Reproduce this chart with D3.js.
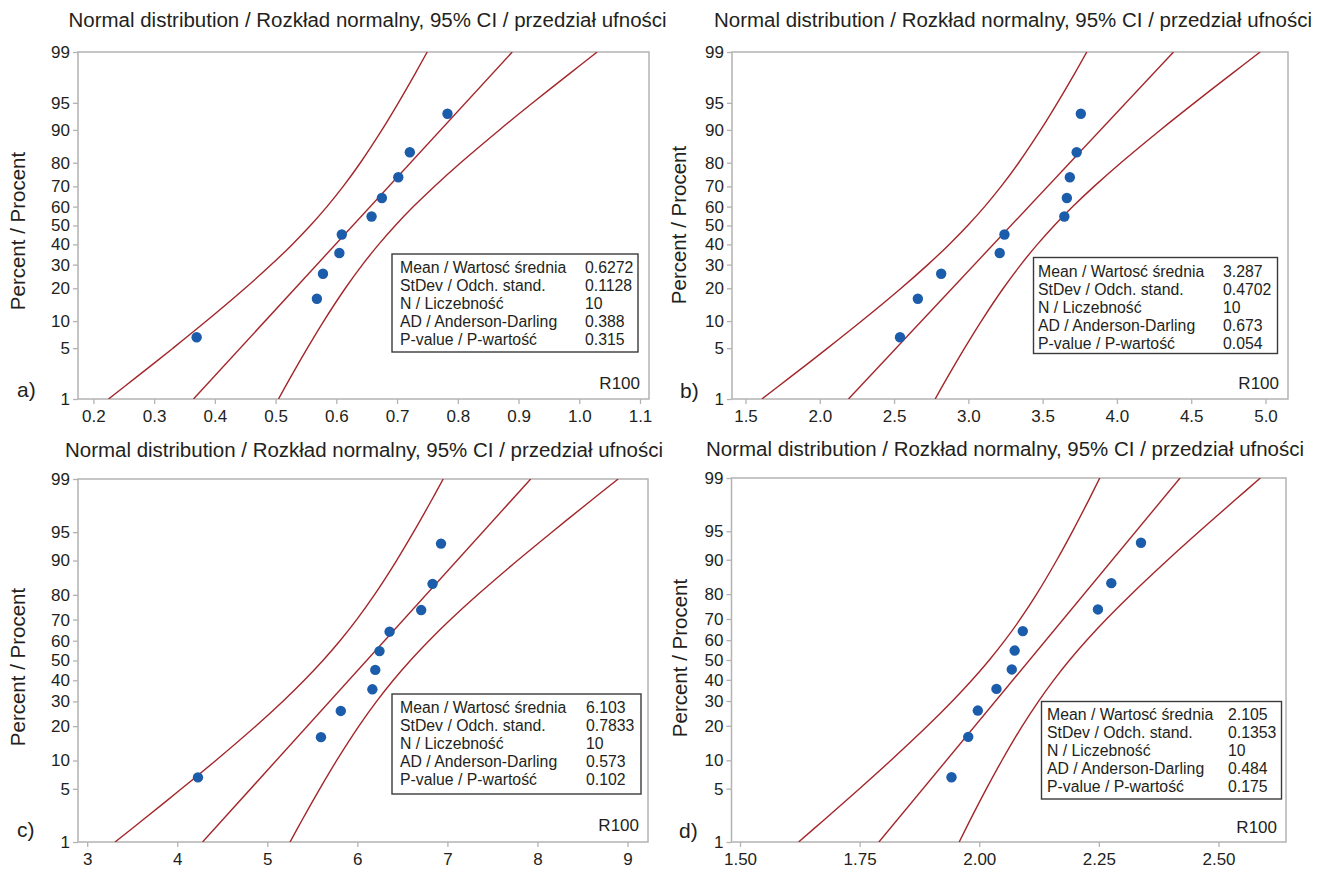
<!DOCTYPE html>
<html>
<head>
<meta charset="utf-8">
<script src="https://cdn.jsdelivr.net/npm/d3@7"></script>
<style>
  html, body { margin: 0; padding: 0; background: #fff; }
  svg { display: block; font-family: "Liberation Sans", Arial, sans-serif; }
</style>
</head>
<body>
<svg id="chart" width="1322" height="869"></svg>
<script>
// ---------------- DATA ----------------
const titleText = "Normal distribution / Rozkład normalny, 95% CI / przedział ufności";
const yAxisLabel = "Percent / Procent";
const sampleLabel = "R100";
const statLabels = ["Mean / Wartosć średnia", "StDev / Odch. stand.", "N / Liczebność", "AD / Anderson-Darling", "P-value / P-wartość"];
const yTickPct = [1, 5, 10, 20, 30, 40, 50, 60, 70, 80, 90, 95, 99];
const pointPct = [6.7, 16.3, 25.9, 35.6, 45.2, 54.8, 64.4, 74.1, 83.7, 93.3];
const bandPct = [1, 2, 5, 10, 20, 30, 40, 50, 60, 70, 80, 90, 95, 98, 99];
const fitPct = [1, 99];

// panel a
const aValues = [0.370, 0.568, 0.578, 0.605, 0.609, 0.658, 0.675, 0.702, 0.721, 0.783];
const aLower = [0.2249, 0.2677, 0.3310, 0.3860, 0.4497, 0.4930, 0.5275, 0.5573, 0.5846, 0.6113, 0.6396, 0.6751, 0.7021, 0.7310, 0.7496];
const aUpper = [0.5048, 0.5234, 0.5523, 0.5793, 0.6148, 0.6431, 0.6698, 0.6971, 0.7269, 0.7614, 0.8047, 0.8685, 0.9234, 0.9867, 1.0295];
const aFit = [0.3648, 0.8896];
const aStats = ["0.6272", "0.1128", "10", "0.388", "0.315"];
const aXTicks = [0.2, 0.3, 0.4, 0.5, 0.6, 0.7, 0.8, 0.9, 1.0, 1.1];

// panel b
const bValues = [2.540, 2.660, 2.817, 3.211, 3.243, 3.646, 3.663, 3.683, 3.729, 3.757];
const bLower = [1.6100, 1.7883, 2.0524, 2.2814, 2.5472, 2.7275, 2.8713, 2.9956, 3.1095, 3.2207, 3.3387, 3.4866, 3.5994, 3.7199, 3.7974];
const bUpper = [2.7766, 2.8541, 2.9746, 3.0874, 3.2353, 3.3534, 3.4645, 3.5784, 3.7027, 3.8465, 4.0268, 4.2926, 4.5216, 4.7857, 4.9640];
const bFit = [2.1933, 4.3807];
const bStats = ["3.287", "0.4702", "10", "0.673", "0.054"];
const bXTicks = [1.5, 2.0, 2.5, 3.0, 3.5, 4.0, 4.5, 5.0];

// panel c
const cValues = [4.230, 5.596, 5.816, 6.167, 6.199, 6.246, 6.358, 6.709, 6.835, 6.929];
const cLower = [3.3094, 3.6063, 4.0463, 4.4278, 4.8706, 5.1710, 5.4105, 5.6175, 5.8073, 5.9925, 6.1892, 6.4355, 6.6234, 6.8241, 6.9533];
const cUpper = [5.2527, 5.3819, 5.5826, 5.7705, 6.0168, 6.2135, 6.3987, 6.5885, 6.7955, 7.0351, 7.3354, 7.7782, 8.1597, 8.5997, 8.8966];
const cFit = [4.2810, 7.9250];
const cStats = ["6.103", "0.7833", "10", "0.573", "0.102"];
const cXTicks = [3, 4, 5, 6, 7, 8, 9];

// panel d
const dValues = [1.942, 1.977, 1.997, 2.036, 2.068, 2.074, 2.091, 2.248, 2.276, 2.338];
const dLower = [1.6225, 1.6737, 1.7497, 1.8156, 1.8921, 1.9440, 1.9854, 2.0211, 2.0539, 2.0859, 2.1199, 2.1624, 2.1949, 2.2296, 2.2519];
const dUpper = [1.9581, 1.9804, 2.0151, 2.0476, 2.0901, 2.1241, 2.1561, 2.1889, 2.2246, 2.2660, 2.3179, 2.3944, 2.4603, 2.5363, 2.5875];
const dFit = [1.7903, 2.4197];
const dStats = ["2.105", "0.1353", "10", "0.484", "0.175"];
const dXTicks = [1.50, 1.75, 2.00, 2.25, 2.50];

// ---------------- LAYOUT ----------------
const panels = [
  { tag: "a)", values: aValues, lower: aLower, upper: aUpper, fit: aFit, stats: aStats, xTicks: aXTicks, fmt: ".1f",
    frame: {x0: 78, x1: 649, y0: 52, y1: 399}, xd: [0.2, 1.1], xr: [93.4, 640],
    title: {x: 68.6, y: 27}, ylab: {x: 18, y: 231}, tagPos: {x: 17, y: 397}, r100: {y: 389},
    box: {x: 392, y: 254, w: 246, h: 98, lx: 400, vx: 585, by: 273} },
  { tag: "b)", values: bValues, lower: bLower, upper: bUpper, fit: bFit, stats: bStats, xTicks: bXTicks, fmt: ".1f",
    frame: {x0: 732, x1: 1288, y0: 52, y1: 399}, xd: [1.5, 5.0], xr: [745.5, 1265.5],
    title: {x: 714, y: 27}, ylab: {x: 679, y: 225}, tagPos: {x: 680, y: 398}, r100: {y: 389},
    box: {x: 1033.5, y: 257.5, w: 244, h: 96, lx: 1038, vx: 1223, by: 277} },
  { tag: "c)", values: cValues, lower: cLower, upper: cUpper, fit: cFit, stats: cStats, xTicks: cXTicks, fmt: "d",
    frame: {x0: 78, x1: 648, y0: 479, y1: 842}, xd: [3, 9], xr: [87.2, 627.5],
    title: {x: 65, y: 457}, ylab: {x: 18, y: 667}, tagPos: {x: 17, y: 837}, r100: {y: 831},
    box: {x: 392, y: 694, w: 249, h: 100, lx: 400, vx: 586, by: 713} },
  { tag: "d)", values: dValues, lower: dLower, upper: dUpper, fit: dFit, stats: dStats, xTicks: dXTicks, fmt: ".2f",
    frame: {x0: 731.5, x1: 1286, y0: 478, y1: 842}, xd: [1.5, 2.5], xr: [740, 1218.5],
    title: {x: 706, y: 456}, ylab: {x: 679.5, y: 658}, tagPos: {x: 679, y: 838}, r100: {y: 833},
    box: {x: 1041.5, y: 701.5, w: 240, h: 97.5, lx: 1047, vx: 1228, by: 720} }
];

// inverse standard normal CDF (probability-paper transform)
function probit(p) {
  const a = [-3.969683028665376e+01, 2.209460984245205e+02, -2.759285104469687e+02, 1.383577518672690e+02, -3.066479806614716e+01, 2.506628277459239e+00];
  const b = [-5.447609879822406e+01, 1.615858368580409e+02, -1.556989798598866e+02, 6.680131188771972e+01, -1.328068155288572e+01];
  const c = [-7.784894002430293e-03, -3.223964580411365e-01, -2.400758277161838e+00, -2.549732539343734e+00, 4.374664141464968e+00, 2.938163982698783e+00];
  const d = [7.784695709041462e-03, 3.224671290700398e-01, 2.445134137142996e+00, 3.754408661907416e+00];
  const plow = 0.02425, phigh = 1 - plow;
  let q, r;
  if (p < plow) {
    q = Math.sqrt(-2 * Math.log(p));
    return (((((c[0]*q+c[1])*q+c[2])*q+c[3])*q+c[4])*q+c[5]) / ((((d[0]*q+d[1])*q+d[2])*q+d[3])*q+1);
  }
  if (p <= phigh) {
    q = p - 0.5; r = q*q;
    return (((((a[0]*r+a[1])*r+a[2])*r+a[3])*r+a[4])*r+a[5])*q / (((((b[0]*r+b[1])*r+b[2])*r+b[3])*r+b[4])*r+1);
  }
  q = Math.sqrt(-2 * Math.log(1 - p));
  return -(((((c[0]*q+c[1])*q+c[2])*q+c[3])*q+c[4])*q+c[5]) / ((((d[0]*q+d[1])*q+d[2])*q+d[3])*q+1);
}

const svg = d3.select("#chart");
const TEXT = "#231f20";
const FRAME = "#b3b3b3";
const CURVE = "#a3262a";
const POINT = "#1b5cab";

panels.forEach(P => {
  const f = P.frame;
  const g = svg.append("g");
  const x = d3.scaleLinear().domain(P.xd).range(P.xr);
  const yz = d3.scaleLinear().domain([probit(0.01), probit(0.99)]).range([f.y1, f.y0]);
  const y = pct => yz(probit(pct / 100));

  // title
  g.append("text").attr("x", P.title.x).attr("y", P.title.y)
    .attr("font-size", 19.5).attr("fill", TEXT)
    .attr("textLength", 598).attr("lengthAdjust", "spacingAndGlyphs")
    .text(titleText);

  // clip
  const clipId = "clip" + P.tag[0];
  svg.append("clipPath").attr("id", clipId).append("rect")
    .attr("x", f.x0).attr("y", f.y0).attr("width", f.x1 - f.x0).attr("height", f.y1 - f.y0);

  // axes
  const yAxis = d3.axisLeft(yz)
    .tickValues(yTickPct.map(p => probit(p / 100)))
    .tickFormat((dd, i) => yTickPct[i])
    .tickSize(5).tickPadding(3);
  const ya = g.append("g").attr("transform", `translate(${f.x0},0)`).call(yAxis);
  ya.select(".domain").remove();
  ya.selectAll(".tick line").attr("stroke", FRAME).attr("stroke-width", 1.3);
  ya.selectAll(".tick text").attr("font-size", 17).attr("fill", TEXT)
    .attr("font-family", "Liberation Sans, Arial, sans-serif");

  const xAxis = d3.axisBottom(x).tickValues(P.xTicks).tickFormat(d3.format(P.fmt))
    .tickSize(5).tickPadding(6);
  const xa = g.append("g").attr("transform", `translate(0,${f.y1})`).call(xAxis);
  xa.select(".domain").remove();
  xa.selectAll(".tick line").attr("stroke", FRAME).attr("stroke-width", 1.3);
  xa.selectAll(".tick text").attr("font-size", 17).attr("fill", TEXT)
    .attr("font-family", "Liberation Sans, Arial, sans-serif");

  // frame
  g.append("rect").attr("x", f.x0).attr("y", f.y0)
    .attr("width", f.x1 - f.x0).attr("height", f.y1 - f.y0)
    .attr("fill", "none").attr("stroke", FRAME).attr("stroke-width", 1.5);

  // y axis label
  g.append("text")
    .attr("transform", `translate(${P.ylab.x},${P.ylab.y}) rotate(-90)`)
    .attr("text-anchor", "middle").attr("dy", "0.35em")
    .attr("font-size", 20.5).attr("fill", TEXT).text(yAxisLabel);

  // panel tag
  g.append("text").attr("x", P.tagPos.x).attr("y", P.tagPos.y)
    .attr("font-size", 21).attr("fill", TEXT).text(P.tag);

  // curves
  const plot = g.append("g").attr("clip-path", `url(#${clipId})`);
  const band = d3.line().x(dd => x(dd[0])).y(dd => y(dd[1])).curve(d3.curveCatmullRom.alpha(0.5));
  [P.lower, P.upper].forEach(arr => {
    plot.append("path").datum(arr.map((v, i) => [v, bandPct[i]]))
      .attr("d", band).attr("fill", "none").attr("stroke", CURVE).attr("stroke-width", 1.4);
  });
  plot.append("path").datum(P.fit.map((v, i) => [v, fitPct[i]]))
    .attr("d", d3.line().x(dd => x(dd[0])).y(dd => y(dd[1])))
    .attr("fill", "none").attr("stroke", CURVE).attr("stroke-width", 1.4);

  // points
  plot.selectAll("circle.pt").data(P.values.map((v, i) => [v, pointPct[i]]))
    .join("circle").attr("class", "pt")
    .attr("cx", dd => x(dd[0])).attr("cy", dd => y(dd[1]))
    .attr("r", 5.2).attr("fill", POINT);

  // R100
  g.append("text").attr("x", f.x1 - 9).attr("y", P.r100.y)
    .attr("text-anchor", "end").attr("font-size", 17).attr("fill", TEXT).text(sampleLabel);

  // stats box
  const B = P.box;
  g.append("rect").attr("x", B.x).attr("y", B.y).attr("width", B.w).attr("height", B.h)
    .attr("fill", "#fff").attr("stroke", "#3a3a3a").attr("stroke-width", 1.4);
  statLabels.forEach((lab, i) => {
    g.append("text").attr("x", B.lx).attr("y", B.by + i * 18)
      .attr("font-size", 15.8).attr("fill", TEXT).text(lab);
    g.append("text").attr("x", B.vx).attr("y", B.by + i * 18)
      .attr("font-size", 15.8).attr("fill", TEXT).text(P.stats[i]);
  });
});
</script>
</body>
</html>
